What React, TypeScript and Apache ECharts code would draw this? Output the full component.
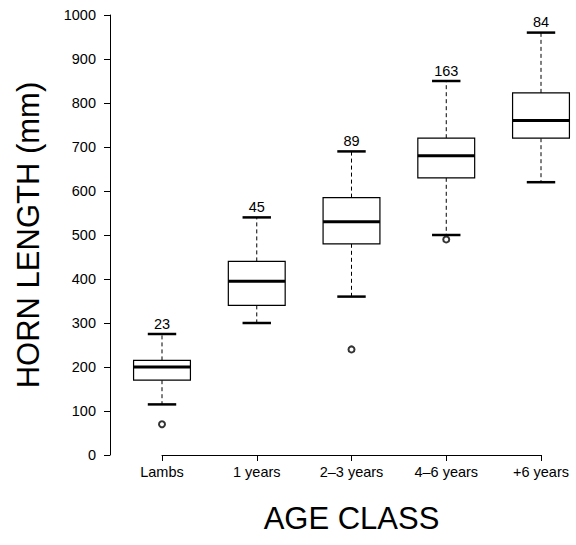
import React, { useEffect, useRef } from "react";
import * as echarts from "echarts";

const categories = ["Lambs", "1 years", "2\u20133 years", "4\u20136 years", "+6 years"];
const lowerWhisker = [115, 300, 360, 500, 620];
const q1 = [170, 340, 480, 630, 720];
const median = [200, 395, 530, 680, 760];
const q3 = [215, 440, 585, 720, 823];
const upperWhisker = [275, 540, 690, 850, 960];
const counts = [23, 45, 89, 163, 84];
const outlierCat = [0, 2, 3];
const outlierVal = [70, 240, 490];
const yTicks = { min: 0, max: 1000, step: 100 };

const FONT = "'Liberation Sans', Arial, Helvetica, sans-serif";

export default function App() {
  const ref = useRef<HTMLDivElement>(null);
  useEffect(() => {
    if (!ref.current) return;
    const chart = echarts.init(ref.current, undefined, { renderer: "svg" });
    const boxData = categories.map((_, i) => [
      i,
      lowerWhisker[i],
      q1[i],
      median[i],
      q3[i],
      upperWhisker[i],
      counts[i],
    ]);
    const outlierData = outlierCat.map((c, i) => [c, outlierVal[i]]);
    chart.setOption({
      animation: false,
      textStyle: { fontFamily: FONT },
      grid: { left: 162, right: 35, top: 15, bottom: 90, containLabel: false },
      xAxis: {
        type: "value",
        min: 0,
        max: categories.length - 1,
        interval: 1,
        splitLine: { show: false },
        axisLine: { show: true, onZero: false, lineStyle: { color: "#000", width: 1 } },
        axisTick: { show: true, inside: false, length: 6, lineStyle: { color: "#000" } },
        axisLabel: {
          color: "#000",
          fontSize: 14.5,
          fontFamily: FONT,
          margin: 9,
          formatter: (v: number) => categories[Math.round(v)] ?? "",
        },
        name: "AGE CLASS",
        nameLocation: "middle",
        nameGap: 48,
        nameTextStyle: { fontSize: 31, color: "#000", fontFamily: FONT },
      },
      yAxis: {
        type: "value",
        min: yTicks.min,
        max: yTicks.max,
        interval: yTicks.step,
        offset: 52,
        splitLine: { show: false },
        axisLine: { show: true, onZero: false, lineStyle: { color: "#000", width: 1 } },
        axisTick: { show: true, inside: false, length: 6, lineStyle: { color: "#000" } },
        axisLabel: {
          color: "#000",
          fontSize: 14.5,
          fontFamily: FONT,
          margin: 14,
          formatter: (v: number) => String(v),
        },
        name: "HORN LENGTH (mm)",
        nameLocation: "middle",
        nameGap: 66,
        nameTextStyle: { fontSize: 31, color: "#000", fontFamily: FONT },
      },
      series: [
        {
          type: "custom",
          data: boxData,
          clip: false,
          renderItem: (params: any, api: any) => {
            const x = api.value(0);
            const pLW = api.coord([x, api.value(1)]);
            const pQ1 = api.coord([x, api.value(2)]);
            const pMed = api.coord([x, api.value(3)]);
            const pQ3 = api.coord([x, api.value(4)]);
            const pUW = api.coord([x, api.value(5)]);
            const n = api.value(6);
            const cx = pMed[0];
            const unit = api.size([1, 0])[0];
            const hw = unit * 0.3;
            const sw = hw * 0.5;
            return {
              type: "group",
              children: [
                {
                  type: "line",
                  shape: { x1: cx, y1: pQ3[1], x2: cx, y2: pUW[1] },
                  style: { stroke: "#000", lineWidth: 1, lineDash: [4, 3] },
                },
                {
                  type: "line",
                  shape: { x1: cx, y1: pQ1[1], x2: cx, y2: pLW[1] },
                  style: { stroke: "#000", lineWidth: 1, lineDash: [4, 3] },
                },
                {
                  type: "line",
                  shape: { x1: cx - sw, y1: pUW[1], x2: cx + sw, y2: pUW[1] },
                  style: { stroke: "#000", lineWidth: 2.5 },
                },
                {
                  type: "line",
                  shape: { x1: cx - sw, y1: pLW[1], x2: cx + sw, y2: pLW[1] },
                  style: { stroke: "#000", lineWidth: 2.5 },
                },
                {
                  type: "rect",
                  shape: { x: cx - hw, y: pQ3[1], width: hw * 2, height: pQ1[1] - pQ3[1] },
                  style: { fill: "#fff", stroke: "#000", lineWidth: 1.2 },
                },
                {
                  type: "line",
                  shape: { x1: cx - hw, y1: pMed[1], x2: cx + hw, y2: pMed[1] },
                  style: { stroke: "#000", lineWidth: 3 },
                },
                {
                  type: "text",
                  style: {
                    text: String(n),
                    x: cx,
                    y: pUW[1] - 3,
                    align: "center",
                    verticalAlign: "bottom",
                    fontSize: 14.5,
                    fontFamily: FONT,
                    fill: "#000",
                  },
                },
              ],
            };
          },
        },
        {
          type: "scatter",
          data: outlierData,
          symbol: "emptyCircle",
          symbolSize: 6,
          itemStyle: { color: "#000", borderColor: "#000", borderWidth: 1 },
          z: 5,
        },
      ],
    });
    return () => chart.dispose();
  }, []);
  return (
    <div
      ref={ref}
      style={{ position: "fixed", left: 0, top: 0, width: 576, height: 545, background: "#fff" }}
    />
  );
}
